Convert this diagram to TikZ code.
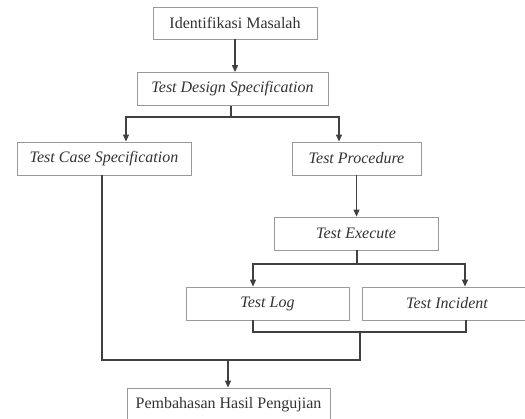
\documentclass[tikz,border=0pt]{standalone}
\usepackage{fontspec}
\setmainfont{Liberation Serif}
\usetikzlibrary{arrows.meta}
\usetikzlibrary{positioning}

\begin{document}
\begin{tikzpicture}[x=1pt,y=-1pt,
            font=\fontsize{16}{18}\selectfont,
            text=black!80,
            box/.style = {draw=black!40,line width=0.8pt,inner sep=0pt,
                minimum height=33pt,align=center},
            flow/.style = {draw=black!75,line width=1.2pt},
            arr/.style = {flow,-{Triangle[width=6pt,length=7pt]}}]
            \useasboundingbox (0,0) rectangle (525,419);
            \node[box,minimum width=164pt,minimum height=32pt] (idm) at (235,23) {Identifikasi Masalah};
            \node[box,minimum width=191pt] (tds) at (232.5,89) {\itshape Test Design Specification};
            \node[box,minimum width=174pt] (tcs) at (104,158.5) {\itshape Test Case Specification};
            \node[box,minimum width=129pt] (tp) at (356.5,158.5) {\itshape Test Procedure};
            \node[box,minimum width=164pt] (te) at (356,233.5) {\itshape Test Execute};
            \node[box,minimum width=163pt] (tl) at (267.5,303.5) {\itshape Test Log};
            \node[box,minimum width=170pt] (ti) at (447,303.5) {\itshape Test Incident};
            \node[box,minimum width=203pt] (phs) at (228.5,404.5) {Pembahasan Hasil Pengujian};
            % split and join points
            \coordinate (s1) at (231,117);
            \coordinate (s2) at (357,264);
            \coordinate (j1) at (360,332);
            \coordinate (j2) at (228,360);
            \draw[arr] (idm.south) -- ([xshift=2.5pt]tds.north);
            \draw[arr] (tp.south) -- (tp.south |- te.north);
            \draw[flow] ([xshift=-1.5pt]tds.south) -- (s1);
            \draw[arr] (s1) -| ([xshift=22pt]tcs.north);
            \draw[arr] (s1) -| ([xshift=-17.5pt]tp.north);
            \draw[flow] (te.south -| s2) -- (s2);
            \draw[arr] (s2) -| ([xshift=-14.5pt]tl.north);
            \draw[arr] (s2) -| ([xshift=18pt]ti.north);
            \draw[flow] ([xshift=-14.5pt]tl.south) |- (j1) -| ([xshift=19pt]ti.south);
            \draw[flow] (j1) |- (j2);
            \draw[flow] ([xshift=-2pt]tcs.south) |- (j2);
            \draw[arr] (j2) -- (j2 |- phs.north);
\end{tikzpicture}
\end{document}
